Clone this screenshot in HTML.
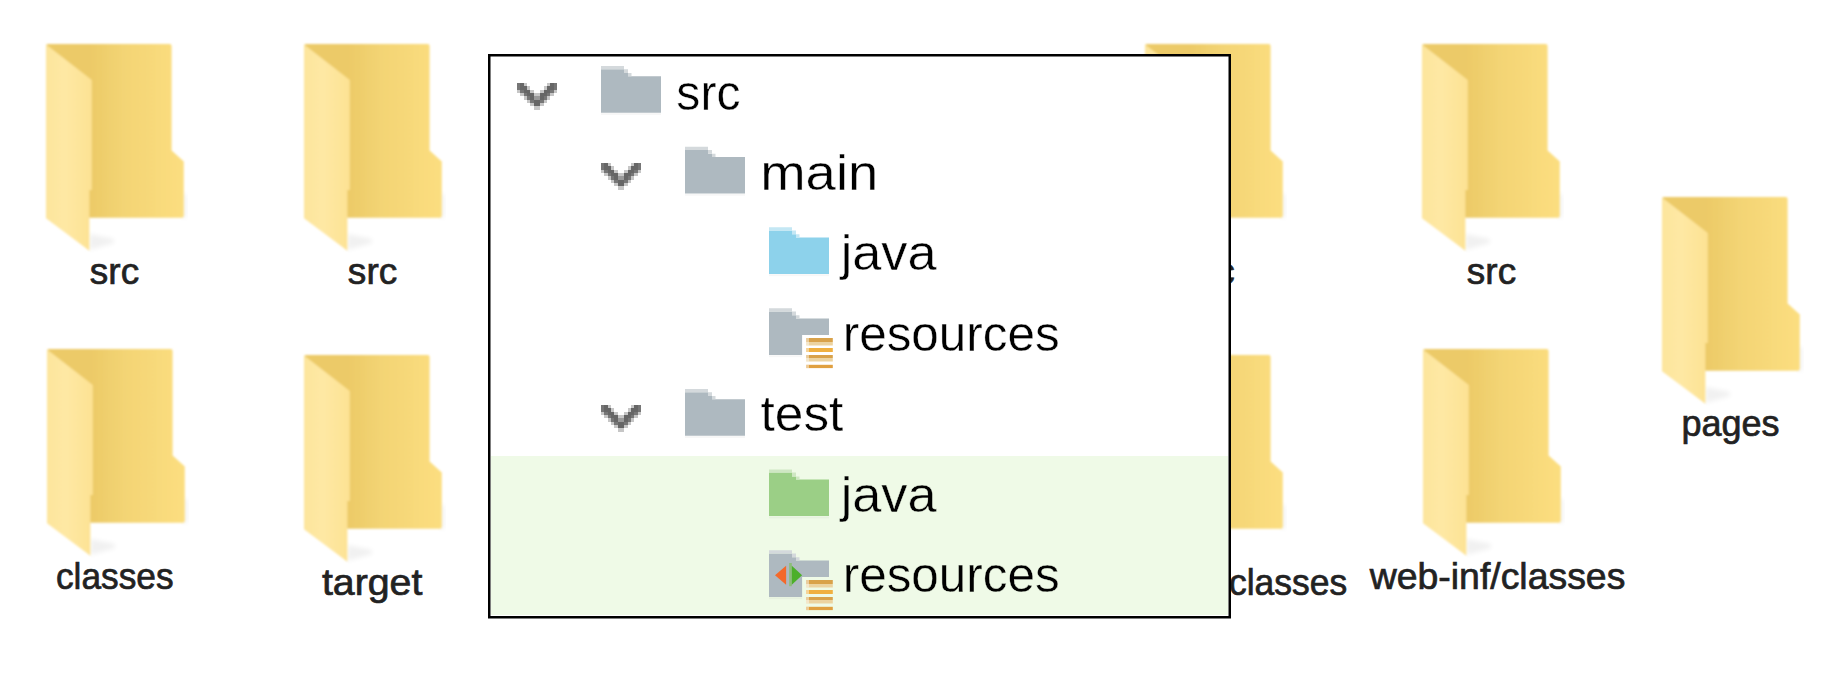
<!DOCTYPE html>
<html>
<head>
<meta charset="utf-8">
<style>
html,body{margin:0;padding:0;background:#fff;}
body{width:1838px;height:680px;position:relative;overflow:hidden;font-family:"Liberation Sans",sans-serif;}
#desk{position:absolute;left:0;top:0;}
#popup{position:absolute;left:488px;top:54px;width:743px;height:564.5px;background:#fff;}
#popup .testbg{position:absolute;left:3px;top:402px;width:736.5px;height:159px;background:#effae7;}
#tree{position:absolute;left:-488px;top:-54px;}
</style>
</head>
<body>
<svg id="desk" width="1838" height="680" viewBox="0 0 1838 680">
<defs>
  <linearGradient id="gBack" gradientUnits="userSpaceOnUse" x1="44" y1="0" x2="138" y2="0">
    <stop offset="0" stop-color="#ecca67"/>
    <stop offset="0.35" stop-color="#f3d474"/>
    <stop offset="1" stop-color="#fcde80"/>
  </linearGradient>
  <linearGradient id="gFront" gradientUnits="userSpaceOnUse" x1="0" y1="0" x2="46" y2="0">
    <stop offset="0" stop-color="#fde59c"/>
    <stop offset="0.4" stop-color="#fee8a4"/>
    <stop offset="1" stop-color="#fde293"/>
  </linearGradient>
  <filter id="blur2" x="-50%" y="-50%" width="200%" height="200%"><feGaussianBlur stdDeviation="2.6"/></filter>
  <filter id="soft" x="-10%" y="-10%" width="120%" height="120%"><feGaussianBlur stdDeviation="0.8"/></filter>
  <g id="fold">
    <path d="M43.4,190 L68,195 L68,199 L43.4,206 Z" fill="#000" opacity="0.055" filter="url(#blur2)"/>
    <rect x="136" y="150" width="4" height="24" fill="#000" opacity="0.06" filter="url(#blur2)"/>
    <g filter="url(#soft)">
    <path d="M0,2 Q0,0 2,0 H123.6 Q125.6,0 125.6,2 V106.6 L137.8,117.6 V171.8 Q137.8,173.8 135.8,173.8 H0 Z" fill="url(#gBack)"/>
    <path d="M0,0.6 L45.8,36 L45.8,146 L43.4,146 L43.4,206.8 L0,174.3 Z" fill="url(#gFront)"/>
    </g>
  </g>
</defs>
<use href="#fold" x="46" y="44"/>
<use href="#fold" x="304" y="44"/>
<use href="#fold" x="1145" y="44"/>
<use href="#fold" x="1422" y="44"/>
<use href="#fold" x="47" y="349"/>
<use href="#fold" x="304" y="355"/>
<use href="#fold" x="1145" y="355"/>
<use href="#fold" x="1423" y="349"/>
<use href="#fold" x="1662" y="197"/>
<g font-family="Liberation Sans" font-size="37.5" fill="#222" stroke="#222" stroke-width="0.7">
  <text x="89.87" y="283.7" textLength="49.3" lengthAdjust="spacingAndGlyphs">src</text>
  <text x="347.87" y="283.7" textLength="49.4" lengthAdjust="spacingAndGlyphs">src</text>
  <text x="1185.4" y="283.7" textLength="49.3" lengthAdjust="spacingAndGlyphs">src</text>
  <text x="1466.87" y="283.7" textLength="49.3" lengthAdjust="spacingAndGlyphs">src</text>
  <text x="55.9" y="588.6" textLength="117.78" lengthAdjust="spacingAndGlyphs">classes</text>
  <text x="321.91" y="595.1" textLength="100.48" lengthAdjust="spacingAndGlyphs">target</text>
  <text x="1228.99" y="595.1" textLength="118.29" lengthAdjust="spacingAndGlyphs">classes</text>
  <text x="1369.75" y="588.5" textLength="255.6" lengthAdjust="spacingAndGlyphs">web-inf/classes</text>
  <text x="1681.38" y="436.3" textLength="98.23" lengthAdjust="spacingAndGlyphs">pages</text>
</g>
</svg>

<div id="popup">
  <div class="testbg"></div>
  <svg id="tree" width="1838" height="680" viewBox="0 0 1838 680">
  <defs>
    <filter id="tsoft" x="-5%" y="-5%" width="110%" height="110%"><feGaussianBlur stdDeviation="0.45"/></filter>
    <g id="tfold">
      <path d="M0,3.2 H23 V7 H27 V10.2 H60 V46.7 H0 Z"/>
      <path d="M0,0 H23 V3.2 H0 Z M23,3.2 H27 V7 H23 Z M27,7 H30.5 V10.2 H27 Z" fill="currentColor"/>
      <rect x="0" y="47" width="60" height="2" fill="#000" opacity="0.03"/>
    </g>
    <g id="chev" shape-rendering="crispEdges"><rect x="517" y="83" width="3" height="3.0" fill="#767676"/><rect x="520" y="83" width="4" height="3.0" fill="#666"/><rect x="524" y="83" width="3" height="3.0" fill="#c6c6c6"/><rect x="547" y="83" width="3" height="3.0" fill="#c6c6c6"/><rect x="550" y="83" width="3.8" height="3.0" fill="#666"/><rect x="553.8" y="83" width="3.2" height="3.0" fill="#767676"/><rect x="517" y="86" width="3" height="4.0" fill="#767676"/><rect x="520" y="86" width="4" height="4.0" fill="#666"/><rect x="524" y="86" width="3" height="4.0" fill="#666"/><rect x="527" y="86" width="3" height="4.0" fill="#c6c6c6"/><rect x="543.8" y="86" width="3.2" height="4.0" fill="#c6c6c6"/><rect x="547" y="86" width="3" height="4.0" fill="#666"/><rect x="550" y="86" width="3.8" height="4.0" fill="#666"/><rect x="553.8" y="86" width="3.2" height="4.0" fill="#767676"/><rect x="517" y="90" width="3" height="3.0" fill="#c6c6c6"/><rect x="520" y="90" width="4" height="3.0" fill="#767676"/><rect x="524" y="90" width="3" height="3.0" fill="#666"/><rect x="527" y="90" width="3" height="3.0" fill="#666"/><rect x="530" y="90" width="3.7" height="3.0" fill="#c6c6c6"/><rect x="540" y="90" width="3.8" height="3.0" fill="#c6c6c6"/><rect x="543.8" y="90" width="3.2" height="3.0" fill="#666"/><rect x="547" y="90" width="3" height="3.0" fill="#666"/><rect x="550" y="90" width="3.8" height="3.0" fill="#767676"/><rect x="553.8" y="90" width="3.2" height="3.0" fill="#c6c6c6"/><rect x="520" y="93" width="4" height="3.0" fill="#c6c6c6"/><rect x="524" y="93" width="3" height="3.0" fill="#767676"/><rect x="527" y="93" width="3" height="3.0" fill="#666"/><rect x="530" y="93" width="3.7" height="3.0" fill="#666"/><rect x="533.7" y="93" width="3.3" height="3.0" fill="#c6c6c6"/><rect x="537" y="93" width="3" height="3.0" fill="#c6c6c6"/><rect x="540" y="93" width="3.8" height="3.0" fill="#666"/><rect x="543.8" y="93" width="3.2" height="3.0" fill="#666"/><rect x="547" y="93" width="3" height="3.0" fill="#767676"/><rect x="550" y="93" width="3.8" height="3.0" fill="#c6c6c6"/><rect x="524" y="96" width="3" height="3.7" fill="#c6c6c6"/><rect x="527" y="96" width="3" height="3.7" fill="#767676"/><rect x="530" y="96" width="3.7" height="3.7" fill="#666"/><rect x="533.7" y="96" width="3.3" height="3.7" fill="#9a9a9a"/><rect x="537" y="96" width="3" height="3.7" fill="#9a9a9a"/><rect x="540" y="96" width="3.8" height="3.7" fill="#666"/><rect x="543.8" y="96" width="3.2" height="3.7" fill="#767676"/><rect x="547" y="96" width="3" height="3.7" fill="#c6c6c6"/><rect x="527" y="99.7" width="3" height="3.3" fill="#c6c6c6"/><rect x="530" y="99.7" width="3.7" height="3.3" fill="#767676"/><rect x="533.7" y="99.7" width="3.3" height="3.3" fill="#666"/><rect x="537" y="99.7" width="3" height="3.3" fill="#666"/><rect x="540" y="99.7" width="3.8" height="3.3" fill="#767676"/><rect x="543.8" y="99.7" width="3.2" height="3.3" fill="#c6c6c6"/><rect x="530" y="103" width="3.7" height="3.0" fill="#c6c6c6"/><rect x="533.7" y="103" width="3.3" height="3.0" fill="#666"/><rect x="537" y="103" width="3" height="3.0" fill="#666"/><rect x="540" y="103" width="3.8" height="3.0" fill="#c6c6c6"/><rect x="533.7" y="106" width="3.3" height="4.0" fill="#c6c6c6"/><rect x="537" y="106" width="3" height="4.0" fill="#c6c6c6"/></g>
    <g id="res">
      <rect x="33.1" y="26.8" width="31" height="34"/>
      <rect x="37.2" y="29.8" width="26.6" height="4" fill="#d9a24a"/>
      <rect x="37.2" y="33.8" width="26.6" height="3.5" fill="#ecd3a0"/>
      <rect x="37.2" y="39.8" width="26.6" height="4" fill="#f0b040"/>
      <rect x="37.2" y="46.8" width="26.6" height="3" fill="#d9a24a"/>
      <rect x="37.2" y="49.8" width="26.6" height="3.5" fill="#ecd3a0"/>
      <rect x="37.2" y="56.6" width="26.6" height="3.3" fill="#e0a040"/>
      <g fill="#fff" opacity="0.45"><rect x="37.2" y="29.8" width="2.8" height="7.5"/><rect x="37.2" y="39.8" width="2.8" height="4"/><rect x="37.2" y="46.8" width="2.8" height="6.5"/><rect x="37.2" y="56.6" width="2.8" height="3.3"/></g>
    </g>
  </defs>
  <g filter="url(#tsoft)">
    <use href="#chev"/>
    <use href="#chev" x="84" y="80.3"/>
    <use href="#chev" x="84" y="322"/>
  </g>
  <use href="#tfold" x="601" y="66" fill="#aeb9c0" color="#d4d9dc"/>
  <use href="#tfold" x="685" y="146.8" fill="#aeb9c0" color="#d4d9dc"/>
  <use href="#tfold" x="769" y="227.2" fill="#8dd2eb" color="#c4e7f4"/>
  <use href="#tfold" x="769" y="308.2" fill="#aeb9c0" color="#d4d9dc"/>
  <use href="#res" x="769" y="308.2" fill="#fff"/>
  <use href="#tfold" x="685" y="389" fill="#aeb9c0" color="#d4d9dc"/>
  <use href="#tfold" x="769" y="469.4" fill="#9bcf86" color="#cfe7c3"/>
  <use href="#tfold" x="769" y="550.2" fill="#aeb9c0" color="#d4d9dc"/>
  <use href="#res" x="769" y="550.2" fill="#effae7"/>
  <g transform="translate(769,550.2)">
    <rect x="20.2" y="12.8" width="2.6" height="23.2" fill="#8dbe78"/>
    <path d="M6,25 L17.1,15.5 V34.5 Z" fill="#f4692a"/>
    <path d="M22.8,15.5 L33.1,25 L22.8,34.5 Z" fill="#4caf2a"/>
  </g>
  <g font-family="Liberation Sans" font-size="50" fill="#000" stroke="#fff" stroke-width="0.4">
    <text x="676.36" y="109.5" textLength="64.11" lengthAdjust="spacingAndGlyphs">src</text>
    <text x="760.18" y="189.8" textLength="118.16" lengthAdjust="spacingAndGlyphs">main</text>
    <text x="840.68" y="270.3" textLength="95.82" lengthAdjust="spacingAndGlyphs">java</text>
    <text x="842.72" y="351.3" textLength="216.97" lengthAdjust="spacingAndGlyphs">resources</text>
    <text x="760.62" y="431" textLength="82.75" lengthAdjust="spacingAndGlyphs">test</text>
    <text x="840.68" y="511.9" textLength="95.82" lengthAdjust="spacingAndGlyphs" stroke="#effae7">java</text>
    <text x="842.72" y="592.2" textLength="216.97" lengthAdjust="spacingAndGlyphs" stroke="#effae7">resources</text>
  </g>
  <rect x="489.25" y="55.25" width="740.5" height="562" fill="none" stroke="#000" stroke-width="2.5"/>
  </svg>
</div>
</body>
</html>
